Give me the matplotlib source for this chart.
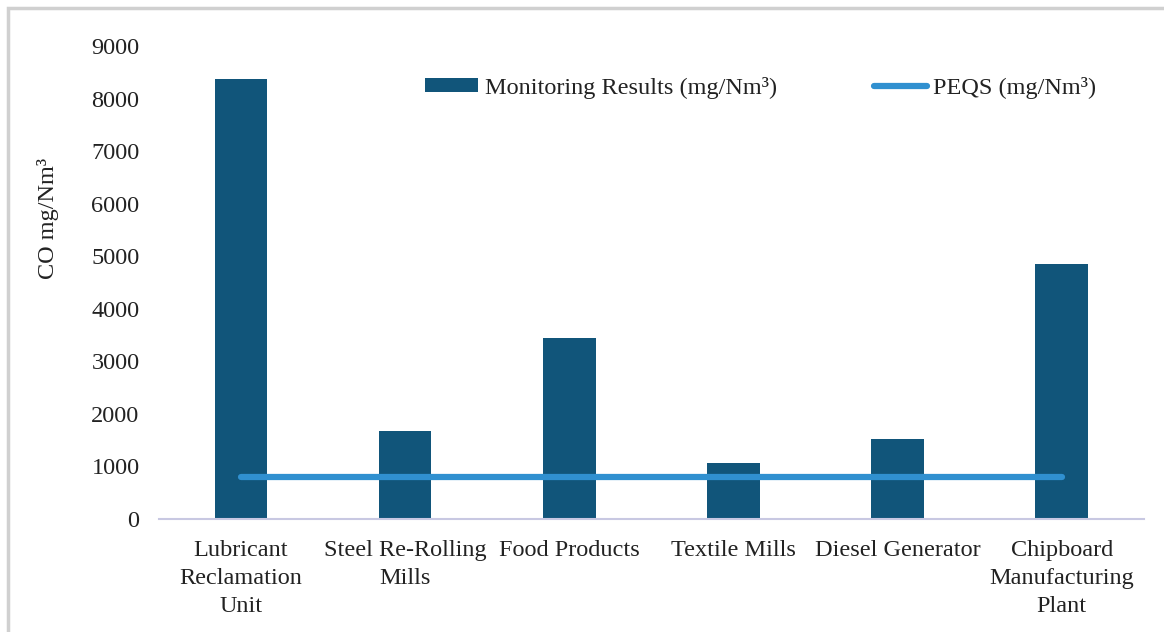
import matplotlib.pyplot as plt
import numpy as np
from matplotlib.patches import Rectangle

# chart data
categories = ["Lubricant\nReclamation\nUnit", "Steel Re-Rolling\nMills", "Food Products",
              "Textile Mills", "Diesel Generator", "Chipboard\nManufacturing\nPlant"]
monitoring = [8380, 1680, 3450, 1070, 1520, 4860]
peqs = [800, 800, 800, 800, 800, 800]
yticks = [0, 1000, 2000, 3000, 4000, 5000, 6000, 7000, 8000, 9000]

bar_color = '#11557A'
line_color = '#3090D0'
axis_color = '#C8C8E2'
text_color = '#222222'
fs = 17.5

plt.rcParams['font.family'] = ['Liberation Serif', 'DejaVu Serif']

fig = plt.figure(figsize=(11.64, 6.32), dpi=100)
ax = fig.add_axes([0.1366, 0.1788, 0.846, 0.7484])

x = np.arange(len(categories))
bars = ax.bar(x, monitoring, width=0.32, color=bar_color, label='Monitoring Results (mg/Nm³)', zorder=2)
line, = ax.plot(x, peqs, color=line_color, linewidth=4.5, solid_capstyle='round',
                label='PEQS (mg/Nm³)', zorder=3)

ax.set_xlim(-0.5, len(categories) - 0.5)
ax.set_ylim(0, 9000)
ax.set_yticks(yticks)
ax.set_xticks(x)
ax.set_xticklabels(categories, fontsize=fs, color=text_color, linespacing=1.44)
ax.tick_params(axis='y', labelsize=fs, length=0, pad=14, labelcolor=text_color)
ax.tick_params(axis='x', length=0, pad=15)

for side in ['top', 'right', 'left']:
    ax.spines[side].set_visible(False)
ax.spines['bottom'].set_color(axis_color)
ax.spines['bottom'].set_linewidth(1.5)

fig.text(48 / 1164, 1 - 218 / 632, 'CO mg/Nm³', rotation=90, ha='center', va='center',
         fontsize=fs, color=text_color)

fig.legend([bars, line], [bars.get_label(), line.get_label()],
           loc='center left', bbox_to_anchor=(425 / 1164, 1 - 88 / 632),
           bbox_transform=fig.transFigure, ncol=2, frameon=False,
           fontsize=fs, columnspacing=4.0, handlelength=2.2, handleheight=0.5,
           handletextpad=0.25, borderpad=0, borderaxespad=0,
           labelcolor=text_color)

# light grey border around the chart area
fig.patches.append(Rectangle((8 / 1164, -0.5), 1.5, 1.5 - 8 / 632,
                             transform=fig.transFigure, fill=False,
                             edgecolor='#D0D0D0', linewidth=2.5))

fig.savefig('out.png', dpi=100)
